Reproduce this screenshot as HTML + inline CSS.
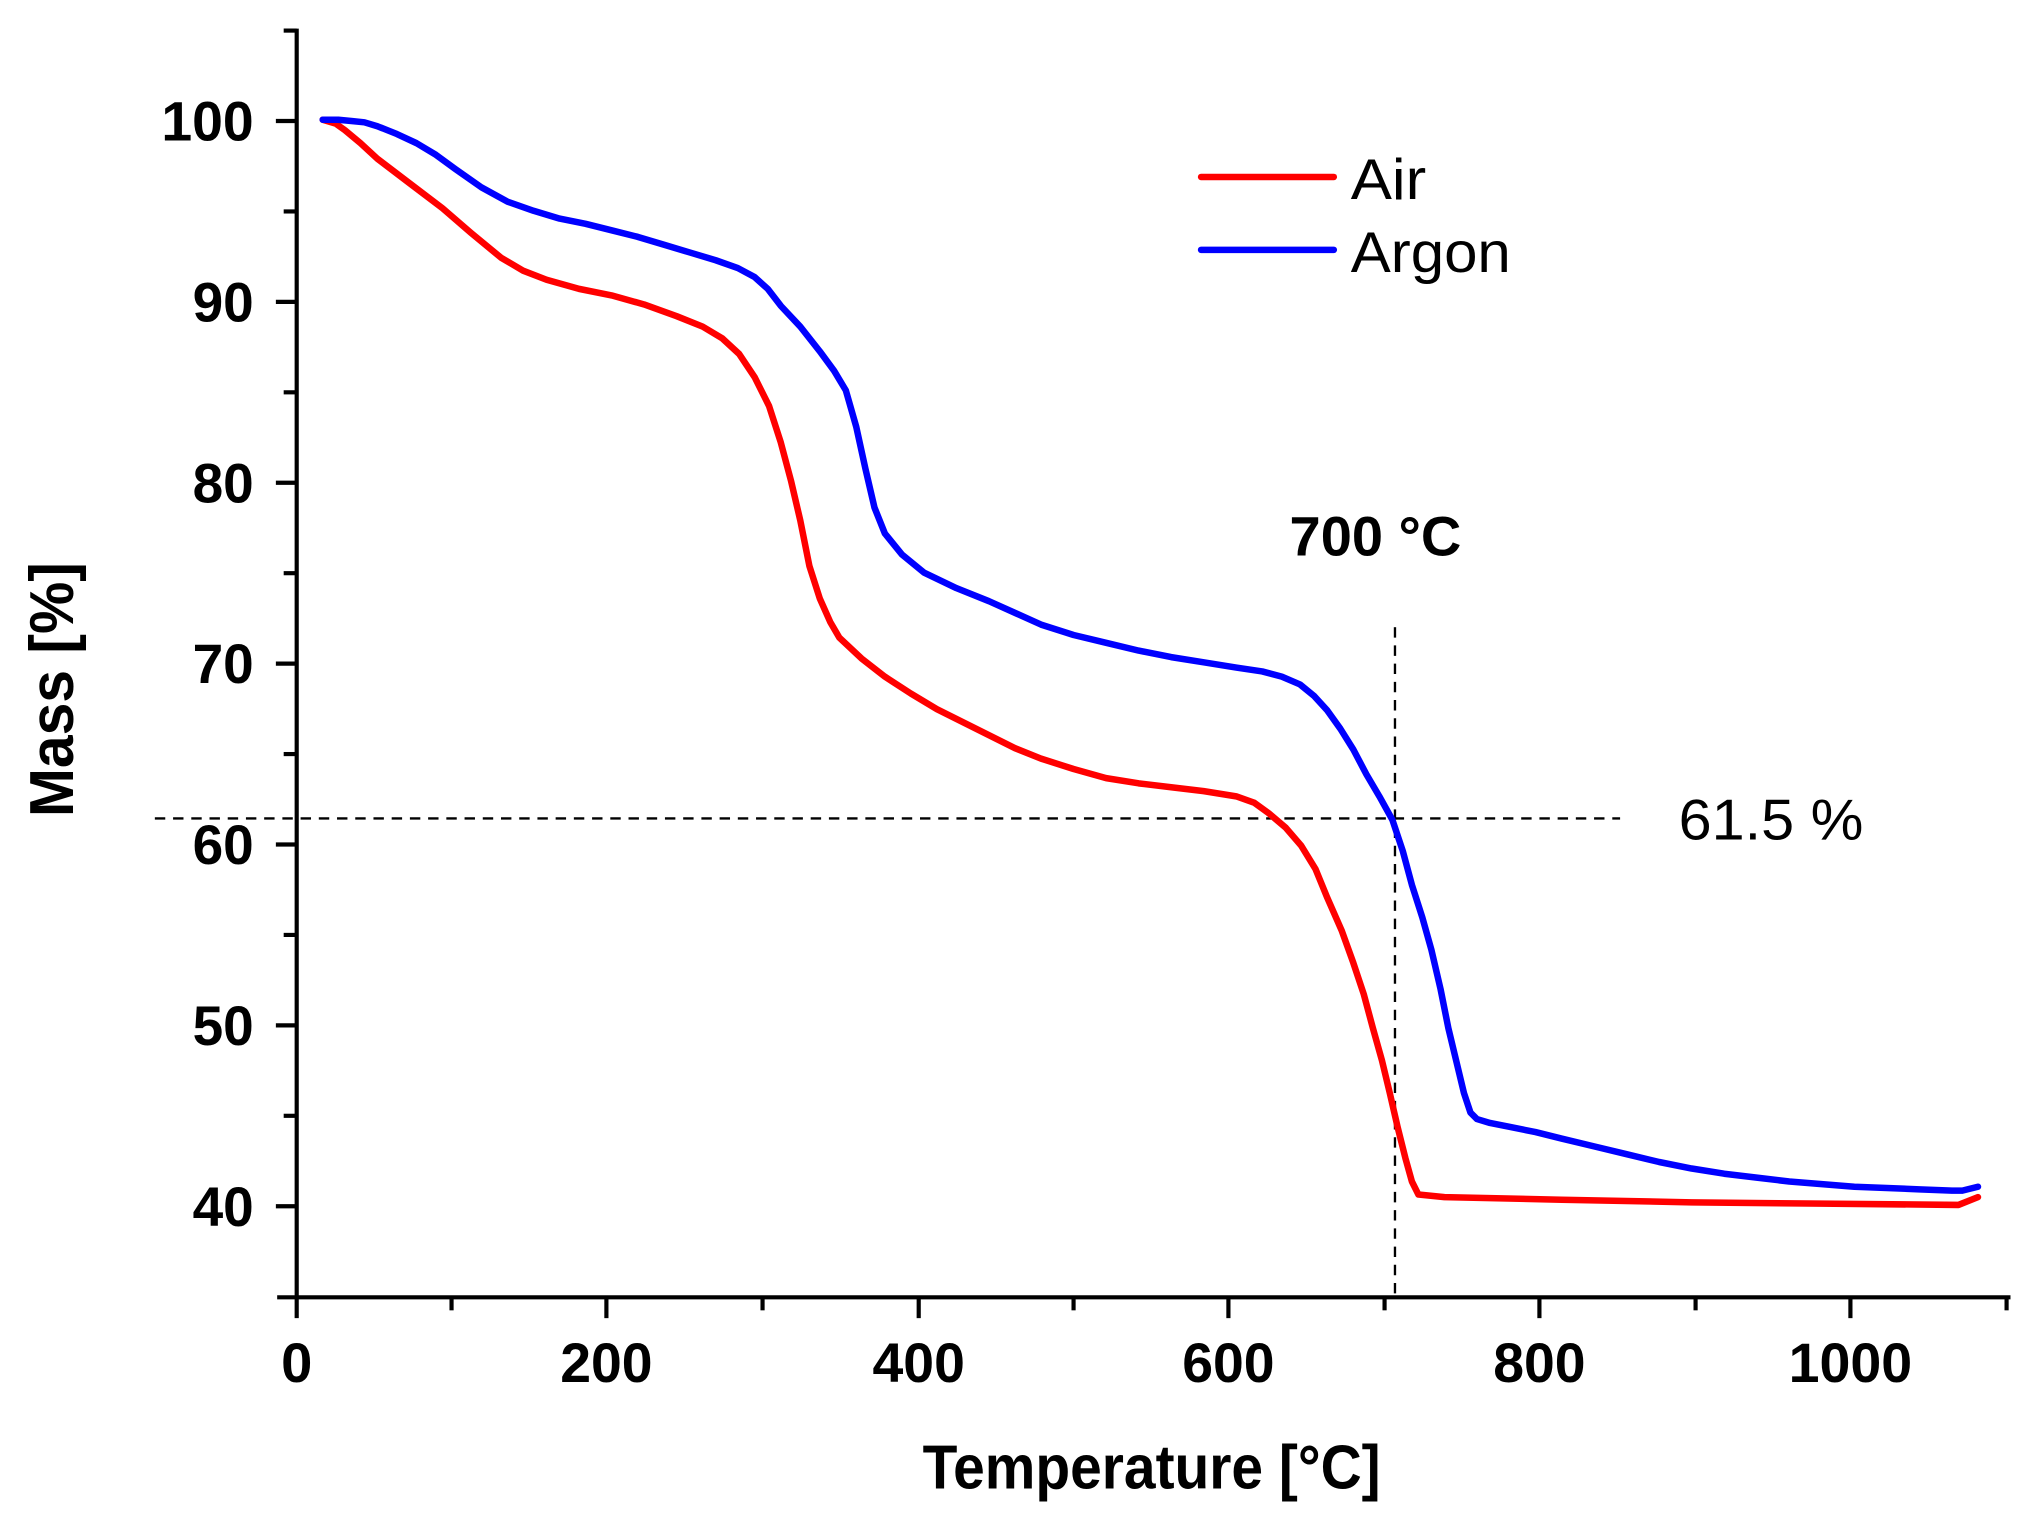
<!DOCTYPE html>
<html><head><meta charset="utf-8"><style>html,body{margin:0;padding:0;background:#fff}svg{display:block}</style></head>
<body>
<svg width="2030" height="1524" viewBox="0 0 1560 1171.2" preserveAspectRatio="none" xmlns="http://www.w3.org/2000/svg">
<rect width="1560" height="1172" fill="#fff"/>
<g stroke="#000" stroke-width="3.2" fill="none">
<line x1="228" y1="22" x2="228" y2="1013"/>
<line x1="213" y1="997" x2="1545" y2="997"/>
<line x1="466" y1="997" x2="466" y2="1013"/><line x1="706" y1="997" x2="706" y2="1013"/>
<line x1="944" y1="997" x2="944" y2="1013"/><line x1="1183" y1="997" x2="1183" y2="1013"/>
<line x1="1422" y1="997" x2="1422" y2="1013"/>
<line x1="347" y1="997" x2="347" y2="1007"/><line x1="586" y1="997" x2="586" y2="1007"/>
<line x1="825" y1="997" x2="825" y2="1007"/><line x1="1064" y1="997" x2="1064" y2="1007"/>
<line x1="1303" y1="997" x2="1303" y2="1007"/><line x1="1542" y1="997" x2="1542" y2="1007"/>
<line x1="212" y1="93" x2="228" y2="93"/><line x1="212" y1="232" x2="228" y2="232"/>
<line x1="212" y1="371" x2="228" y2="371"/><line x1="212" y1="510" x2="228" y2="510"/>
<line x1="212" y1="649" x2="228" y2="649"/><line x1="212" y1="788" x2="228" y2="788"/>
<line x1="212" y1="927" x2="228" y2="927"/>
<line x1="218" y1="23.5" x2="228" y2="23.5"/><line x1="218" y1="162.5" x2="228" y2="162.5"/>
<line x1="218" y1="301.5" x2="228" y2="301.5"/><line x1="218" y1="440.5" x2="228" y2="440.5"/>
<line x1="218" y1="579.5" x2="228" y2="579.5"/><line x1="218" y1="718.5" x2="228" y2="718.5"/>
<line x1="218" y1="857.5" x2="228" y2="857.5"/>
</g>
<g font-family="Liberation Sans, sans-serif" font-weight="bold" font-size="43" fill="#000">
<text x="195" y="108" text-anchor="end" textLength="71" lengthAdjust="spacingAndGlyphs">100</text>
<text x="195" y="247" text-anchor="end" textLength="47" lengthAdjust="spacingAndGlyphs">90</text>
<text x="195" y="386" text-anchor="end" textLength="47" lengthAdjust="spacingAndGlyphs">80</text>
<text x="195" y="525" text-anchor="end" textLength="47" lengthAdjust="spacingAndGlyphs">70</text>
<text x="195" y="664" text-anchor="end" textLength="47" lengthAdjust="spacingAndGlyphs">60</text>
<text x="195" y="803" text-anchor="end" textLength="47" lengthAdjust="spacingAndGlyphs">50</text>
<text x="195" y="942" text-anchor="end" textLength="47" lengthAdjust="spacingAndGlyphs">40</text>
<text x="228" y="1062" text-anchor="middle" textLength="24" lengthAdjust="spacingAndGlyphs">0</text>
<text x="466" y="1062" text-anchor="middle" textLength="71" lengthAdjust="spacingAndGlyphs">200</text>
<text x="706" y="1062" text-anchor="middle" textLength="71" lengthAdjust="spacingAndGlyphs">400</text>
<text x="944" y="1062" text-anchor="middle" textLength="71" lengthAdjust="spacingAndGlyphs">600</text>
<text x="1183" y="1062" text-anchor="middle" textLength="71" lengthAdjust="spacingAndGlyphs">800</text>
<text x="1422" y="1062" text-anchor="middle" textLength="95" lengthAdjust="spacingAndGlyphs">1000</text>
<text x="885" y="1144" text-anchor="middle" font-size="48" textLength="352" lengthAdjust="spacingAndGlyphs">Temperature [°C]</text>
<text transform="translate(56,530) rotate(-90)" text-anchor="middle" font-size="48" textLength="196" lengthAdjust="spacingAndGlyphs">Mass [%]</text>
<text x="991" y="427" textLength="132" lengthAdjust="spacingAndGlyphs">700 °C</text>
</g>
<g font-family="Liberation Sans, sans-serif" font-size="44" fill="#000">
<text x="1038" y="153" textLength="58" lengthAdjust="spacingAndGlyphs">Air</text>
<text x="1038" y="209" textLength="123" lengthAdjust="spacingAndGlyphs">Argon</text>
<text x="1290" y="645" textLength="142" lengthAdjust="spacingAndGlyphs">61.5 %</text>
</g>
<g stroke-width="5" stroke-linecap="round">
<line x1="923" y1="136" x2="1025" y2="136" stroke="#f00"/>
<line x1="923" y1="192" x2="1025" y2="192" stroke="#00f"/>
</g>
<g stroke="#000" stroke-width="1.8" stroke-dasharray="8,6" fill="none">
<line x1="119" y1="629" x2="1245" y2="629"/>
<line x1="1072" y1="482" x2="1072" y2="997"/>
</g>
<polyline fill="none" stroke="#f00" stroke-width="5" stroke-linejoin="round" stroke-linecap="round"
points="248,92 258,95 265,100 277,110 290,122 315,141 340,160 362,179 385,198 402,208 420,215 445,222 470,227 495,234 520,243 540,251 555,260 568,272 580,290 591,312 600,340 608,370 615,400 622,435 630,460 638,478 645,490 662,506 680,520 700,533 720,545 740,555 760,565 780,575 800,583 825,591 850,598 875,602 900,605 925,608 950,612 964,617 975,625 988,636 1000,650 1011,668 1020,690 1031,715 1040,740 1048,764 1055,790 1062,815 1068,840 1074,866 1080,890 1085,908 1090,918 1110,920 1200,922 1300,924 1400,925 1505,926 1520,920"/>
<polyline fill="none" stroke="#00f" stroke-width="5" stroke-linejoin="round" stroke-linecap="round"
points="248,92 260,92 270,93 280,94 290,97 305,103 320,110 335,119 350,130 370,144 390,155 410,162 430,168 450,172 470,177 490,182 510,188 530,194 550,200 567,206 580,213 590,222 600,235 615,251 630,270 641,285 650,300 658,328 665,360 672,390 680,410 693,426 710,440 735,452 760,462 780,471 800,480 825,488 850,494 875,500 900,505 925,509 950,513 970,516 985,520 999,526 1010,535 1020,546 1030,560 1040,576 1050,595 1060,612 1070,630 1078,654 1085,680 1093,705 1100,730 1107,760 1113,790 1119,815 1125,840 1130,855 1135,860 1145,863 1160,866 1180,870 1200,875 1225,881 1250,887 1275,893 1300,898 1325,902 1350,905 1375,908 1400,910 1425,912 1450,913 1475,914 1500,915 1508,915 1520,912"/>
</svg>
</body></html>
